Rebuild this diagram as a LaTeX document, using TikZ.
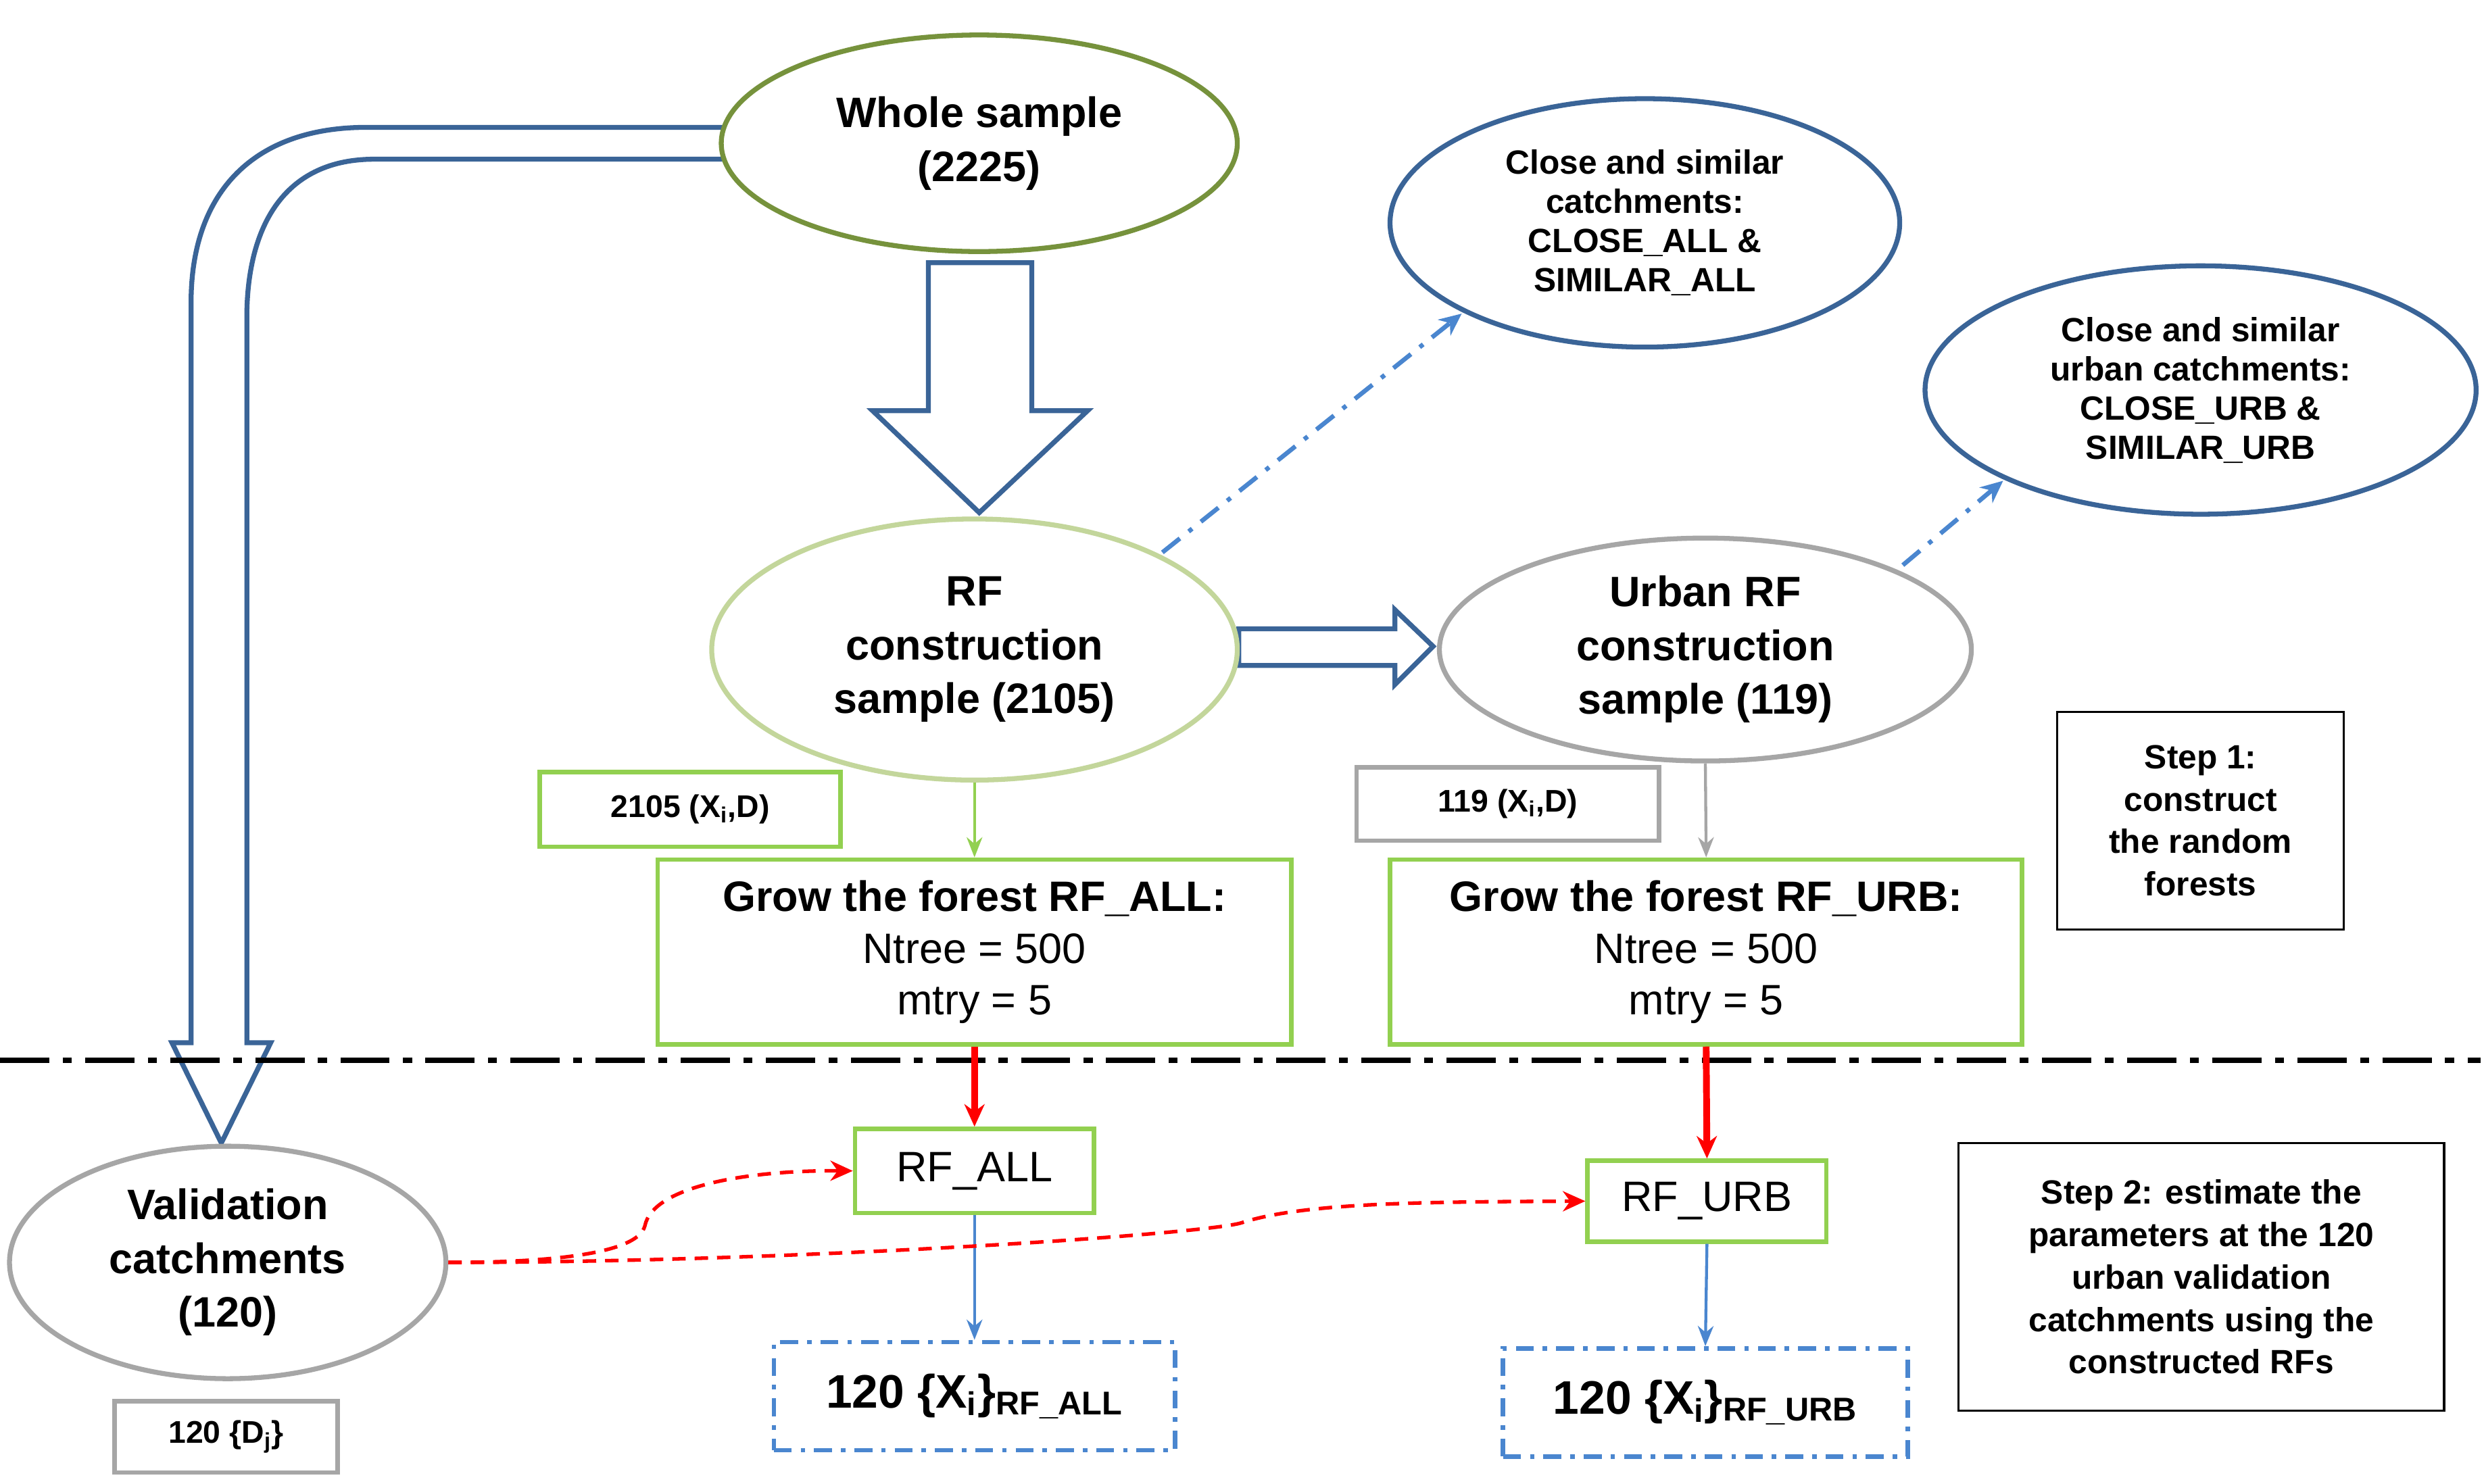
\documentclass[tikz,border=0pt]{standalone}
\usepackage{fontspec}
\setmainfont{Liberation Sans}
\usetikzlibrary{shapes.geometric,arrows.meta}
\definecolor{olive}{HTML}{76923C}
\definecolor{lgreen}{HTML}{C3D69B}
\definecolor{bgreen}{HTML}{92D050}
\definecolor{dblue}{HTML}{3A6497}
\definecolor{lblue}{HTML}{4A86CF}
\definecolor{gr}{HTML}{A6A6A6}
\tikzset{
 ell/.style={ellipse,line width=2.2pt,align=center,inner sep=0pt,font=\bfseries\fontsize{19}{24}\selectfont},
 bx/.style={draw,line width=2pt,align=center,inner sep=0pt},
 hollow/.style={draw=dblue,line width=2.2pt,fill=white,line join=miter},
 thin/.style={-{Stealth[length=9pt,width=7pt]},line width=1.3pt},
 redar/.style={-{Stealth[length=10pt,width=9pt]},line width=3pt,red},
 bdash/.style={-{Stealth[length=10pt,width=9pt]},line width=2pt,lblue,dash pattern=on 10pt off 5pt on 2pt off 5pt},
 rdash/.style={-{Stealth[length=10pt,width=9pt]},line width=1.6pt,red,dash pattern=on 6pt off 4pt},
}
\begin{document}
\begin{tikzpicture}[x=0.025cm,y=-0.025cm]
\useasboundingbox (0,0) rectangle (1560,932);
% hollow arrows
\draw[hollow] (455,80) -- (230,80) .. controls (160,80) and (120,120) .. (120,190) -- (120,655) -- (108,655) -- (139,718) -- (170,655) -- (155,655) -- (155,200) .. controls (155,140) and (180,100) .. (235,100) -- (455,100) -- cycle;
\draw[hollow] (583,165) -- (648,165) -- (648,258) -- (683,258) -- (615,322) -- (548,258) -- (583,258) -- cycle;
\draw[hollow] (778,395) -- (876,395) -- (876,383) -- (900,406) -- (876,430) -- (876,418) -- (778,418) -- cycle;
% ellipses
\node[ell,draw=olive,minimum width=324\pgflinewidth,minimum width=8.1cm,minimum height=3.4cm,fill=white] (whole) at (615,90) {Whole sample\\(2225)};
\node[ell,draw=dblue,minimum width=8cm,minimum height=3.9cm,font=\bfseries\fontsize{15}{17.5}\selectfont] (close) at (1033,140) {Close and similar\\catchments:\\CLOSE\_ALL \&\\SIMILAR\_ALL};
\node[ell,draw=dblue,minimum width=8.65cm,minimum height=3.9cm,font=\bfseries\fontsize{15}{17.5}\selectfont] (closeu) at (1382,245) {Close and similar\\urban catchments:\\CLOSE\_URB \&\\SIMILAR\_URB};
\node[ell,draw=lgreen,minimum width=8.25cm,minimum height=4.1cm,fill=white] (rf) at (612,408) {RF\\construction\\sample (2105)};
\node[ell,draw=gr,minimum width=8.35cm,minimum height=3.5cm,fill=white] (urf) at (1071,408) {Urban RF\\construction\\sample (119)};
\node[ell,draw=gr,minimum width=6.85cm,minimum height=3.65cm] (val) at (143,793) {Validation\\catchments\\(120)};
% boxes
\node[bx,draw=bgreen,minimum width=4.72cm,minimum height=1.17cm,font=\bfseries\fontsize{14}{16}\selectfont] (b2105) at (433.5,508.5) {2105 (X\textsubscript{i},D)};
\node[bx,draw=gr,minimum width=4.75cm,minimum height=1.15cm,font=\bfseries\fontsize{14}{16}\selectfont] (b119) at (947,505) {119 (X\textsubscript{i},D)};
\node[bx,draw=bgreen,minimum width=9.95cm,minimum height=2.9cm,font=\fontsize{19}{23}\selectfont] (gall) at (612,598) {\textbf{Grow the forest RF\_ALL:}\\Ntree = 500\\mtry = 5};
\node[bx,draw=bgreen,minimum width=9.92cm,minimum height=2.9cm,font=\fontsize{19}{23}\selectfont] (gurb) at (1071.5,598) {\textbf{Grow the forest RF\_URB:}\\Ntree = 500\\mtry = 5};
\node[bx,draw=black,line width=1pt,minimum width=4.5cm,minimum height=3.42cm,font=\bfseries\fontsize{15}{19}\selectfont] (step1) at (1382,515.5) {Step 1:\\construct\\the random\\forests};
\node[bx,draw=black,line width=1pt,minimum width=7.62cm,minimum height=4.2cm,font=\bfseries\fontsize{15}{19}\selectfont] (step2) at (1382.5,802) {Step 2: estimate the\\parameters at the 120\\urban validation\\catchments using the\\constructed RFs};
\node[bx,draw=bgreen,minimum width=3.75cm,minimum height=1.32cm,font=\fontsize{19}{23}\selectfont] (rfall) at (612,735.5) {RF\_ALL};
\node[bx,draw=bgreen,minimum width=3.75cm,minimum height=1.27cm,font=\fontsize{19}{23}\selectfont] (rfurb) at (1072,754.5) {RF\_URB};
\node[bx,draw=lblue,dash pattern=on 8pt off 4pt on 2pt off 4pt,minimum width=6.3cm,minimum height=1.7cm,font=\bfseries\fontsize{21}{25}\selectfont] (xall) at (612,877) {120 \{X\textsubscript{i}\}\textsubscript{RF\_ALL}};
\node[bx,draw=lblue,dash pattern=on 8pt off 4pt on 2pt off 4pt,minimum width=6.35cm,minimum height=1.7cm,font=\bfseries\fontsize{21}{25}\selectfont] (xurb) at (1071,881) {120 \{X\textsubscript{i}\}\textsubscript{RF\_URB}};
\node[bx,draw=gr,minimum width=3.5cm,minimum height=1.12cm,font=\bfseries\fontsize{14}{16}\selectfont] (dj) at (142,902.5) {120 \{D\textsubscript{j}\}};
% separator
\draw[line width=2.5pt,dash pattern=on 22pt off 6pt on 4pt off 6pt] (0,666) -- (1558,666);
% connectors
\coordinate (c1) at (918,197);
\coordinate (c2) at (1258,302);
\draw[bdash] (730,347) -- (c1);
\draw[bdash] (1195,355) -- (c2);
\draw[thin,bgreen] (rf.south) -- (gall.north);
\draw[thin,gr] (urf.south) -- (gurb.north);
\draw[redar] (gall.south) -- (rfall.north);
\draw[redar] (gurb.south) -- (rfurb.north);
\draw[thin,lblue] (rfall.south) -- (xall.north);
\draw[thin,lblue] (rfurb.south) -- (xurb.north);
\draw[rdash] (val.east) .. controls (330,793) and (400,790) .. (405,770) .. controls (410,745) and (470,735) .. (rfall.west);
\draw[rdash] (val.east) .. controls (500,793) and (760,775) .. (780,768) .. controls (820,755) and (900,755) .. (rfurb.west);
\end{tikzpicture}
\end{document}
